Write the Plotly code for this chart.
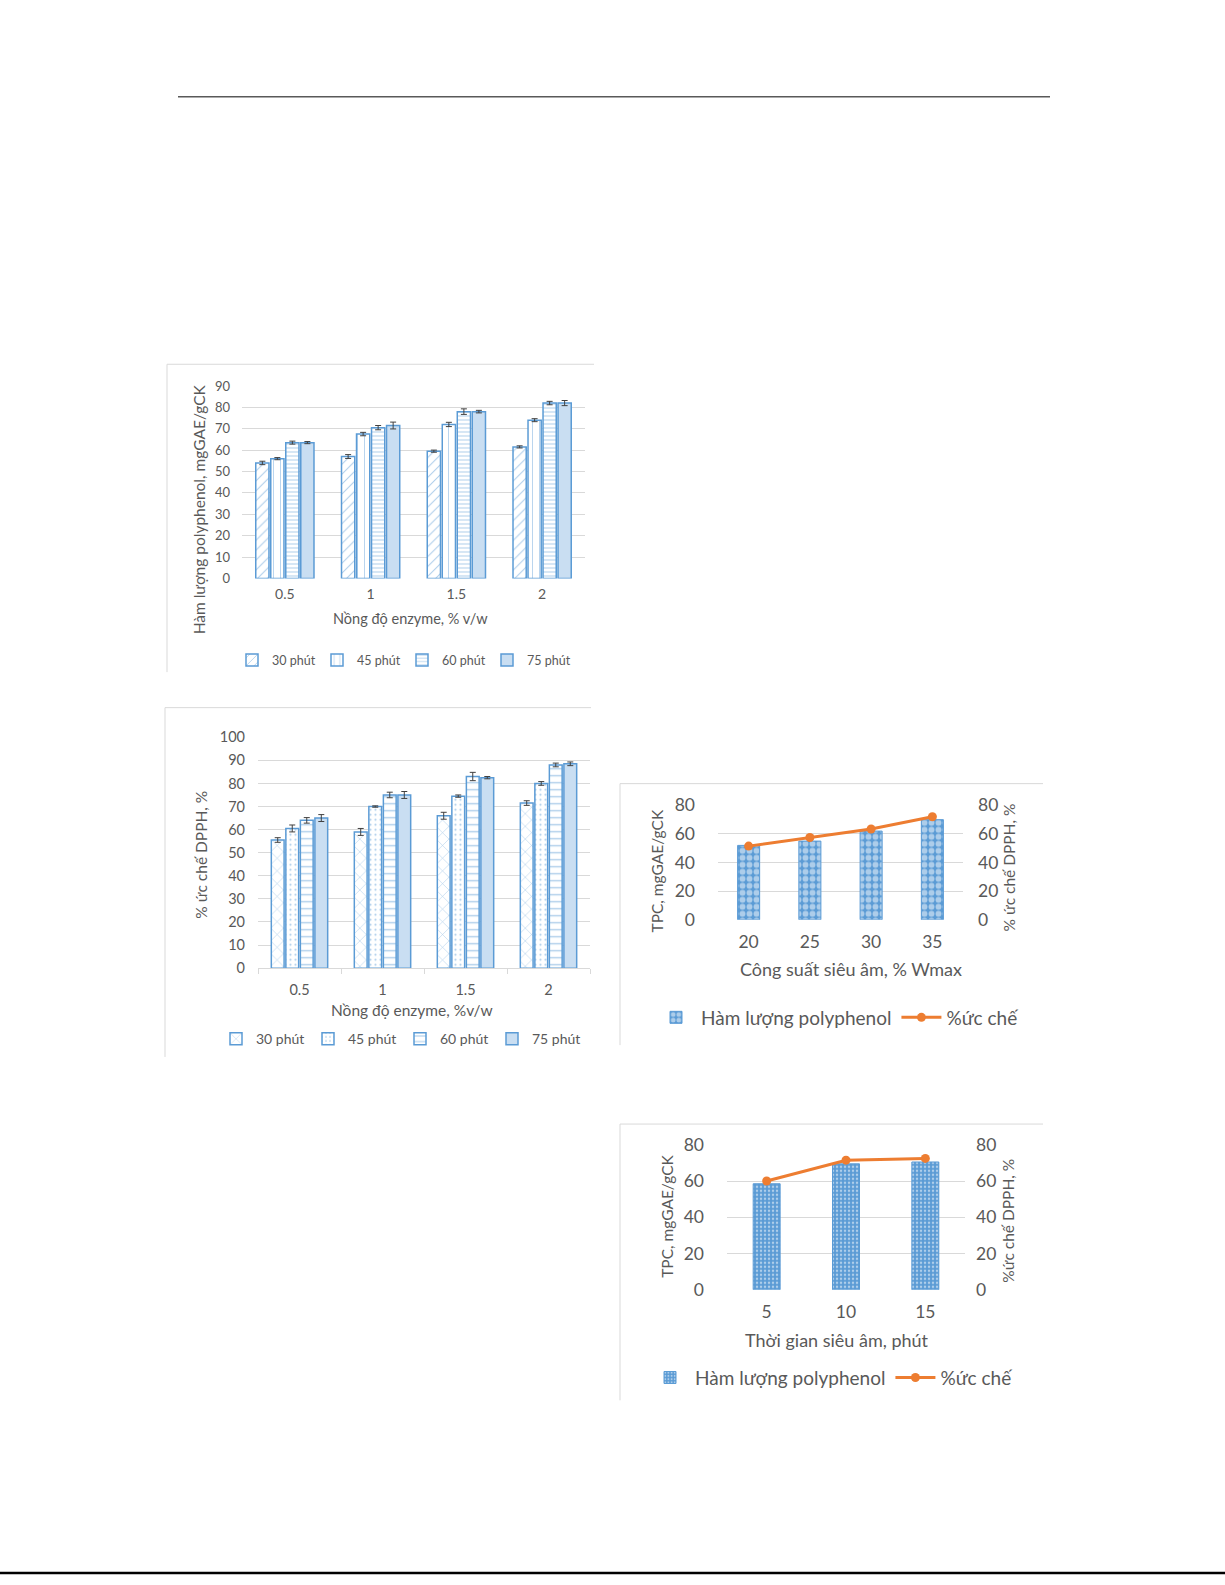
import plotly.graph_objects as go

W, H = 1225, 1585
def px(x): return x / W
def py(y): return 1 - y / H

FONT = "Lato"
GREY = "#595959"
BLUE = "#5b9bd5"
ORANGE = "#ed7d31"

# ---------------- data ----------------
enzyme_cats = ["0.5", "1", "1.5", "2"]
time_labels = ["30 phút", "45 phút", "60 phút", "75 phút"]

# Chart 1: polyphenol content vs enzyme concentration
tpc_30 = [54.0, 57.0, 59.5, 61.5]
tpc_45 = [56.0, 67.5, 72.0, 74.0]
tpc_60 = [63.5, 70.5, 78.0, 82.0]
tpc_75 = [63.5, 71.5, 78.0, 82.0]
tpc_err_30 = [0.8, 0.9, 0.5, 0.5]
tpc_err_45 = [0.5, 0.8, 1.0, 0.7]
tpc_err_60 = [0.7, 1.0, 1.3, 0.8]
tpc_err_75 = [0.5, 1.6, 0.6, 1.2]

# Chart 2: DPPH inhibition vs enzyme concentration
dpph_30 = [55.5, 59.0, 66.0, 71.5]
dpph_45 = [60.5, 70.0, 74.5, 80.0]
dpph_60 = [64.0, 75.0, 83.0, 88.0]
dpph_75 = [65.0, 75.0, 82.5, 88.5]
dpph_err_30 = [1.0, 1.5, 1.5, 1.0]
dpph_err_45 = [1.5, 0.3, 0.5, 0.8]
dpph_err_60 = [1.2, 1.2, 1.8, 0.8]
dpph_err_75 = [1.5, 1.5, 0.5, 0.8]

# Chart 3: ultrasound power
power_cats = ["20", "25", "30", "35"]
power_tpc = [52.0, 55.0, 62.0, 70.0]
power_dpph = [51.5, 57.5, 63.5, 72.0]

# Chart 4: ultrasound time
utime_cats = ["5", "10", "15"]
utime_tpc = [58.5, 69.5, 70.5]
utime_dpph = [60.0, 71.5, 72.5]

fig = go.Figure()

# ---------------- chart 1 ----------------
c1_pat = [dict(shape="/", size=7, solidity=0.15),
          dict(shape="|", size=7, solidity=0.12),
          dict(shape="-", size=4, solidity=0.25),
          None]
for vals, errs, name, pat in zip([tpc_30, tpc_45, tpc_60, tpc_75],
                                 [tpc_err_30, tpc_err_45, tpc_err_60, tpc_err_75],
                                 time_labels, c1_pat):
    marker = dict(color="white" if pat else "#c9def2", line=dict(color=BLUE, width=1.5))
    if pat:
        marker["pattern"] = dict(fgcolor=BLUE, bgcolor="white", **pat)
    fig.add_trace(go.Bar(x=enzyme_cats, y=vals, name=name, marker=marker,
                         error_y=dict(type="data", array=errs, color="#404040", thickness=1, width=3),
                         xaxis="x", yaxis="y", legend="legend"))

# ---------------- chart 2 ----------------
c2_pat = [dict(shape="x", size=9, solidity=0.12),
          dict(shape=".", size=5, solidity=0.15),
          dict(shape="-", size=7, solidity=0.2),
          None]
for vals, errs, name, pat in zip([dpph_30, dpph_45, dpph_60, dpph_75],
                                 [dpph_err_30, dpph_err_45, dpph_err_60, dpph_err_75],
                                 time_labels, c2_pat):
    marker = dict(color="white" if pat else "#c9def2", line=dict(color=BLUE, width=1.5))
    if pat:
        marker["pattern"] = dict(fgcolor=BLUE, bgcolor="white", **pat)
    fig.add_trace(go.Bar(x=enzyme_cats, y=vals, name=name, marker=marker,
                         error_y=dict(type="data", array=errs, color="#404040", thickness=1, width=3),
                         xaxis="x2", yaxis="y2", legend="legend2"))

# ---------------- chart 3 ----------------
fig.add_trace(go.Bar(x=power_cats, y=power_tpc, name="Hàm lượng polyphenol", width=0.36,
                     marker=dict(color=BLUE, line=dict(color=BLUE, width=1),
                                 pattern=dict(shape=".", size=7, solidity=0.55,
                                              fgcolor="white", bgcolor=BLUE)),
                     xaxis="x3", yaxis="y3", legend="legend3"))
fig.add_trace(go.Scatter(x=power_cats, y=power_dpph, name="%ức chế", mode="lines+markers",
                         line=dict(color=ORANGE, width=3), marker=dict(color=ORANGE, size=9),
                         xaxis="x3", yaxis="y5", legend="legend3"))

# ---------------- chart 4 ----------------
fig.add_trace(go.Bar(x=utime_cats, y=utime_tpc, name="Hàm lượng polyphenol", width=0.34,
                     marker=dict(color=BLUE, line=dict(color=BLUE, width=1),
                                 pattern=dict(shape=".", size=4, solidity=0.3,
                                              fgcolor="white", bgcolor=BLUE)),
                     xaxis="x4", yaxis="y4", legend="legend4"))
fig.add_trace(go.Scatter(x=utime_cats, y=utime_dpph, name="%ức chế", mode="lines+markers",
                         line=dict(color=ORANGE, width=3), marker=dict(color=ORANGE, size=9),
                         xaxis="x4", yaxis="y6", legend="legend4"))

grid = "#d9d9d9"
def xax(x0, x1, anchor, size, standoff):
    return dict(domain=[px(x0), px(x1)], anchor=anchor, type="category",
                showgrid=False, zeroline=False, showline=False,
                tickfont=dict(family=FONT, size=size, color=GREY),
                ticklabelstandoff=standoff)

def yax(y_bottom, y_top, anchor, rng, dtick, size, standoff):
    return dict(domain=[py(y_bottom), py(y_top)], anchor=anchor, range=rng, dtick=dtick,
                showgrid=True, gridcolor=grid, gridwidth=1, zeroline=False, showline=False,
                tickfont=dict(family=FONT, size=size, color=GREY), ticklabelstandoff=standoff)

layout = dict(
    autosize=True, margin=dict(l=0, r=0, t=0, b=0),
    paper_bgcolor="white", plot_bgcolor="white",
    font=dict(family=FONT, color=GREY),
    barmode="group", bargap=0.3, bargroupgap=0.12,
    xaxis=xax(242, 585, "y", 14, 6),
    yaxis=yax(575, 380, "x", [0, 90], 10, 13, 11),
    xaxis2=dict(xax(258, 590, "y2", 14.5, 8), showline=True, linecolor=grid,
                ticks="outside", tickcolor=grid, ticklen=5, tickson="boundaries"),
    yaxis2=yax(970, 736, "x2", [0, 100], 10, 14.5, 12),
    xaxis3=xax(718, 963, "y3", 17.5, 10),
    yaxis3=yax(921, 805, "x3", [0, 80], 20, 17.5, 22),
    yaxis5=dict(overlaying="y3", side="right", anchor="x3", range=[0, 80], dtick=20,
                showgrid=False, zeroline=False,
                tickfont=dict(family=FONT, size=17.5, color=GREY), ticklabelstandoff=14),
    xaxis4=xax(727, 965, "y4", 17.5, 10),
    yaxis4=yax(1296, 1149, "x4", [0, 80], 20, 17.5, 22),
    yaxis6=dict(overlaying="y4", side="right", anchor="x4", range=[0, 80], dtick=20,
                showgrid=False, zeroline=False,
                tickfont=dict(family=FONT, size=17.5, color=GREY), ticklabelstandoff=10),
    legend=dict(orientation="h", x=px(402), y=py(658), xanchor="center", yanchor="middle",
                font=dict(family=FONT, size=12.5, color=GREY), itemwidth=30,
                entrywidth=40, entrywidthmode="pixels", bgcolor="rgba(0,0,0,0)"),
    legend2=dict(orientation="h", x=px(400), y=py(1042), xanchor="center", yanchor="middle",
                 font=dict(family=FONT, size=14, color=GREY), itemwidth=30,
                 entrywidth=47, entrywidthmode="pixels", bgcolor="rgba(0,0,0,0)"),
    legend3=dict(orientation="h", x=px(838), y=py(1020), xanchor="center", yanchor="middle",
                 font=dict(family=FONT, size=19, color=GREY), itemwidth=40, bgcolor="rgba(0,0,0,0)"),
    legend4=dict(orientation="h", x=px(832), y=py(1385), xanchor="center", yanchor="middle",
                 font=dict(family=FONT, size=19, color=GREY), itemwidth=40, bgcolor="rgba(0,0,0,0)"),
)
fig.update_layout(**layout)

# axis titles
def title(text, x, y, size, angle=0):
    fig.add_annotation(text=text, x=px(x), y=py(y), xref="paper", yref="paper",
                       showarrow=False, textangle=angle, xanchor="center", yanchor="middle",
                       font=dict(family=FONT, size=size, color=GREY))

title("Hàm lượng polyphenol, mgGAE/gCK", 199, 505, 15.5, -90)
title("Nồng độ enzyme, % v/w", 410, 616, 14.5)
title("% ức chế DPPH, %", 201, 855, 15.5, -90)
title("Nồng độ enzyme, %v/w", 412, 1012, 15.5)
title("TPC, mgGAE/gCK", 657, 872, 15.5, -90)
title("% ức chế DPPH, %", 1009, 868, 15.5, -90)
title("Công suất siêu âm, % Wmax", 851, 971, 18)
title("TPC, mgGAE/gCK", 667, 1222, 15.5, -90)
title("%ức chế DPPH, %", 1008, 1226, 15.5, -90)
title("Thời gian siêu âm, phút", 837, 1347, 18)

# frames and page rules
def line(x0, y0, x1, y1, color, width):
    fig.add_shape(type="line", xref="paper", yref="paper",
                  x0=px(x0), y0=py(y0), x1=px(x1), y1=py(y1),
                  line=dict(color=color, width=width))

line(178, 87, 1050, 87, "#595959", 1.5)
line(0, 1583, 1225, 1583, "black", 2.5)
for (l, t, r, b) in [(167, 358, 594, 670), (165, 706, 591, 1060),
                     (620, 783, 1043, 1048), (620, 1128, 1043, 1408)]:
    line(l, t, r, t, "#d9d9d9", 1)
    line(l, t, l, b, "#d9d9d9", 1)

fig.write_html("out.html", default_width="100vw", default_height="100vh",
               config={"displayModeBar": False},
               post_script="document.body.style.margin='0';"
                           "document.documentElement.style.overflow='hidden';"
                           "document.body.style.overflow='hidden';")
